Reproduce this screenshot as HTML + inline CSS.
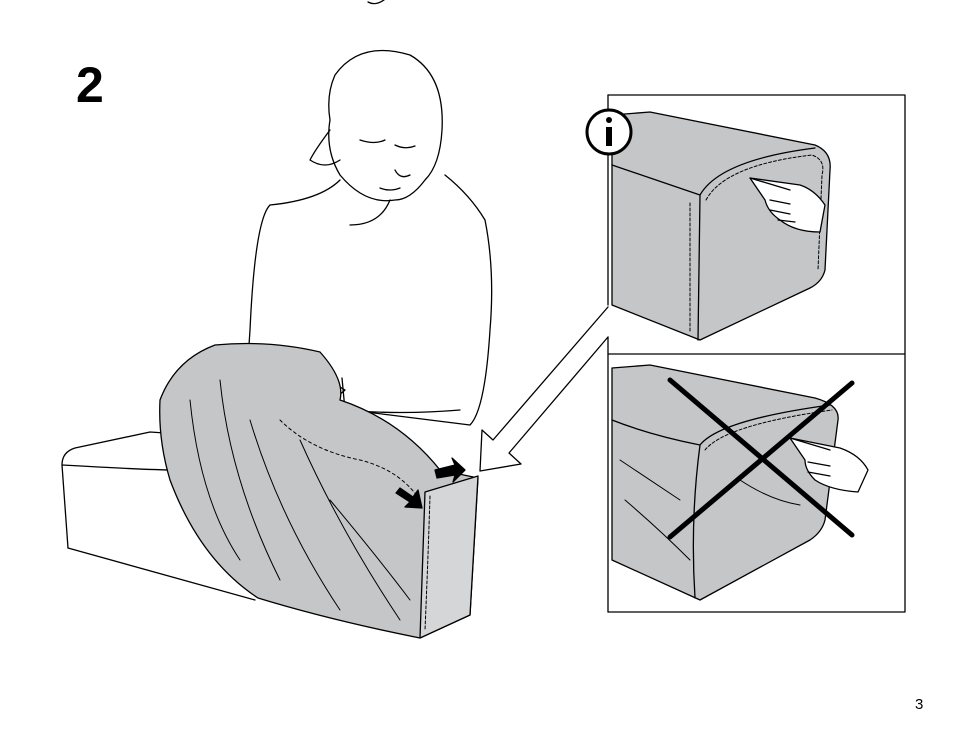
<!DOCTYPE html>
<html><head><meta charset="utf-8"><style>html,body{margin:0;padding:0;background:#fff}svg{display:block}</style></head>
<body>
<svg width="953" height="746" viewBox="0 0 953 746" xmlns="http://www.w3.org/2000/svg" fill="none" stroke="#000" stroke-width="1.3" stroke-linejoin="round" stroke-linecap="round">
<text x="76" y="102" font-family="Liberation Sans, sans-serif" font-weight="bold" font-size="50" fill="#000" stroke="none">2</text>
<text x="915" y="709" font-family="Liberation Sans, sans-serif" font-size="15" fill="#000" stroke="none">3</text>
<path d="M368 2 Q375 6 384 0"/>
<!-- bench -->
<path d="M68 548 L62 465 Q62 452 75 448 L150 432 L180 434" fill="#fff"/>
<path d="M68 548 L255 600" />
<path d="M62 465 Q150 470 175 470"/>
<!-- person -->
<path d="M335 75 Q360 40 410 55 Q445 75 442 130 Q440 165 425 180 Q410 200 395 200 Q365 205 340 175 Q325 150 330 120 Q326 95 335 75Z" fill="#fff"/>
<path d="M330 130 Q315 150 310 160 Q325 170 340 160"/>
<path d="M360 140 Q375 145 385 140 M395 145 Q405 150 415 146 M395 170 Q400 180 410 175 M380 188 Q390 192 400 188"/>
<path d="M340 180 Q320 200 270 205 Q255 220 250 330 L248 360 L260 375 M445 175 Q470 195 485 220 Q495 270 490 330 Q485 410 470 425 L350 410 M390 200 Q380 225 350 225"/>
<path d="M265 370 Q290 360 320 375 L345 390 Q330 405 300 395 Q270 390 265 370Z" fill="#fff"/>
<path d="M342 378 L345 410 Q400 415 460 410"/>
<!-- cover -->
<path d="M160 400 Q175 360 215 345 Q270 340 320 352 Q345 380 340 400 Q400 420 440 470 L478 478 L470 615 L420 638 Q330 620 258 598 Q200 560 170 480 Q158 440 160 400Z" fill="#c4c6c8"/>
<path d="M425 492 L478 476 L470 615 L420 638 Z" fill="#d4d6d8"/>
<path d="M430 496 Q428 560 425 630" stroke-dasharray="3 2" stroke-width="1"/>
<path d="M190 400 Q200 500 240 560 M220 380 Q230 480 280 580 M250 420 Q280 520 340 610 M300 440 Q340 530 400 620 M330 500 Q380 560 410 600" stroke-width="1"/>
<path d="M280 420 Q310 450 360 460 Q400 470 420 500" stroke-dasharray="3 3" stroke-width="1"/>
<path d="M435 470 L455 465 L452 458 L465 470 L453 482 L455 475 L437 478Z" fill="#000"/>
<path d="M400 488 L413 497 L418 490 L422 508 L405 507 L410 502 L396 493Z" fill="#000"/>
<!-- panels -->
<path d="M608 95 H905 V612 H608 M608 354 H905" />
<path d="M608 95 V305 M608 337 V612"/>
<!-- arrow -->
<path d="M608 307 L493 440 L482 430 L480 471 L521 464 L509 453 L608 337" fill="#fff"/>
<!-- top box -->
<path d="M612 115 L650 112 L815 145 Q832 152 830 170 L825 270 Q822 282 810 288 L700 340 L612 305 Z" fill="#c4c6c8"/>
<path d="M612 165 L700 195 Q720 160 815 148 M700 195 L698 340" />
<path d="M706 200 Q725 165 812 155 Q826 160 822 175 L818 270" stroke-dasharray="3 2" stroke-width="1"/>
<path d="M690 203 V332" stroke-dasharray="3 2" stroke-width="1"/>
<path d="M750 178 L800 185 Q815 190 825 205 L820 232 Q795 232 780 220 Q768 212 765 200 Z" fill="#fff"/>
<path d="M750 178 L790 190 M770 200 L790 204 M770 210 L790 214 M778 220 L795 222"/>
<circle cx="609" cy="132" r="22" fill="#fff" stroke="#000" stroke-width="3"/>
<circle cx="609" cy="120" r="3" fill="#000" stroke="none"/>
<rect x="606" y="127" width="6" height="19" fill="#000" stroke="none"/>
<!-- bottom box -->
<path d="M612 368 L650 365 L815 398 Q840 405 838 420 L825 520 Q822 532 810 540 L700 600 L612 560 Z" fill="#c4c6c8"/>
<path d="M612 420 Q650 435 700 445 Q720 420 830 405 M700 445 Q690 520 695 598"/>
<path d="M705 450 Q725 425 832 410" stroke-dasharray="3 2" stroke-width="1"/>
<path d="M620 460 Q650 480 680 500 M625 500 Q660 530 690 560 M740 480 Q770 500 800 505" stroke-width="1"/>
<path d="M790 438 L840 448 Q860 455 868 470 L858 492 Q830 490 815 480 Q805 470 805 460 Z" fill="#fff"/>
<path d="M790 438 L830 450 M808 462 L830 466 M808 472 L830 476"/>
<path d="M670 380 L852 535 M852 383 L670 537" stroke-width="5"/>
</svg>
</body></html>
